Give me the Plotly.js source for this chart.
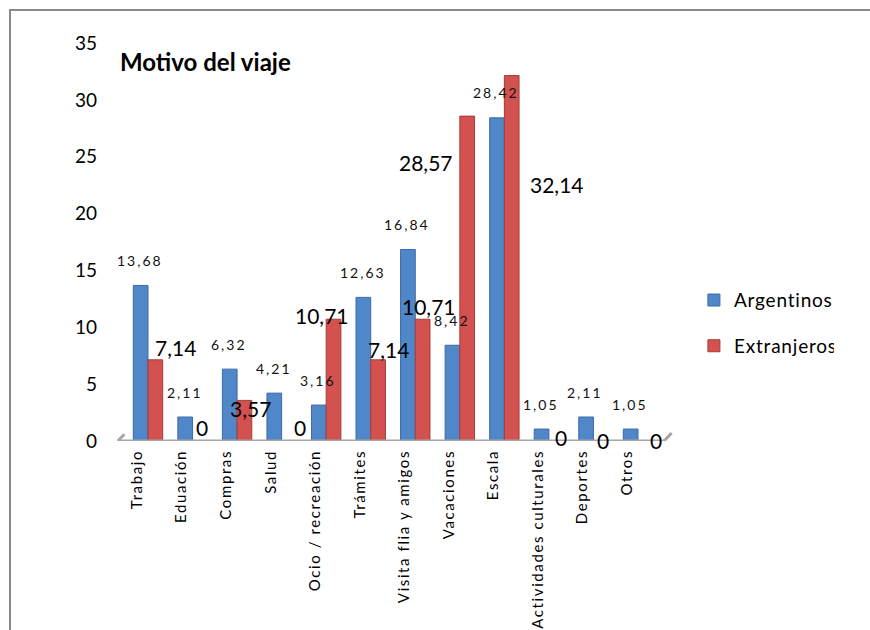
<!DOCTYPE html>
<html>
<head>
<meta charset="utf-8">
<script src="https://cdn.plot.ly/plotly-3.0.1.min.js"></script>
<style>
html,body{margin:0;padding:0;background:#fff;overflow:hidden;}
#wrap{position:relative;width:870px;height:630px;}
#chart{width:870px;height:630px;}
#frame{position:absolute;left:9px;top:9px;width:900px;height:700px;border:2px solid #8a8a8a;box-sizing:border-box;pointer-events:none;}
#chart .xtick text{letter-spacing:1.6px;}
#chart .legendtext{letter-spacing:0.8px;}
</style>
</head>
<body>
<div id="wrap"><div id="chart"></div><div id="frame"></div></div>
<script>
const categories = ["Trabajo","Eduación","Compras","Salud","Ocio / recreación","Trámites","Visita flia y amigos","Vacaciones","Escala","Actividades culturales","Deportes","Otros"];
const argentinos = [13.68, 2.11, 6.32, 4.21, 3.16, 12.63, 16.84, 8.42, 28.42, 1.05, 2.11, 1.05];
const extranjeros = [7.14, 0, 3.57, 0, 10.71, 7.14, 10.71, 28.57, 32.14, 0, 0, 0];
const yTicks = [0, 5, 10, 15, 20, 25, 30, 35];
const seriesNames = ["Argentinos", "Extranjeros"];
const chartTitle = "Motivo del viaje";

// label placement tweaks (pixel shifts of the Extranjeros labels, as placed in the original)
const redLabelDx = [27, 9, 13, 18, -4, 18, 14, -34, 53, 12, 10, 18];
const redLabelDy = [12, 14, -8, 14, 4, 10, 13, -46, -109, 4, 1, 1];

const fmt = v => v === 0 ? "0" : v.toFixed(2).replace(".", ",");
const FONT = "Lato, 'Liberation Sans', sans-serif";

const traces = [
  {type:"bar", name:seriesNames[0], x:categories, y:argentinos, legendgroup:"a",
   marker:{color:"#4f87c9", line:{color:"#3b6aa6", width:1}}, hoverinfo:"x+y"},
  {type:"bar", name:seriesNames[1], x:categories, y:extranjeros, legendgroup:"b",
   marker:{color:"#d3524f", line:{color:"#a63c39", width:1}}, hoverinfo:"x+y"}
];

const annotations = [];
categories.forEach((c, i) => {
  annotations.push({x:c, y:argentinos[i], xref:"x", yref:"y", text:fmt(argentinos[i]),
    showarrow:false, xshift:-8, yshift:25, font:{family:FONT, size:14, color:"#111"}});
  annotations.push({x:c, y:extranjeros[i], xref:"x", yref:"y", text:fmt(extranjeros[i]),
    showarrow:false, xshift:redLabelDx[i], yshift:redLabelDy[i], font:{family:FONT, size:21, color:"#000"}});
});
annotations.push({xref:"paper", yref:"paper", x:-0.004, y:0.953, xanchor:"left", yanchor:"middle",
  text:"<b>" + chartTitle + "</b>", showarrow:false, font:{family:FONT, size:24, color:"#000"}});

const layout = {
  width:870, height:630,
  margin:{l:120, r:206, t:43, b:189},
  paper_bgcolor:"#fff", plot_bgcolor:"rgba(0,0,0,0)",
  barmode:"group", bargap:0.34, bargroupgap:0,
  font:{family:FONT, color:"#000"},
  xaxis:{type:"category", tickangle:-90, tickfont:{family:FONT, size:15, color:"#000"},
    showgrid:false, zeroline:false, showline:false, ticks:"", ticklabelstandoff:5, ticklabelshift:-11},
  yaxis:{range:[0,35], tickvals:yTicks, tickfont:{family:FONT, size:19, color:"#000"},
    showgrid:false, zeroline:false, showline:false, ticks:"", ticklabelstandoff:22},
  legend:{x:1.055, y:0.296, xanchor:"left", yanchor:"middle", font:{family:FONT, size:19, color:"#000"},
    tracegroupgap:18, itemwidth:30, bgcolor:"rgba(0,0,0,0)"},
  shapes:[
    {type:"line", xref:"paper", yref:"y", x0:-0.004, x1:1.0, y0:0, y1:0, line:{color:"#a6a6a6", width:3}},
    {type:"line", xref:"paper", yref:"y", x0:1.0, x1:1.014, y0:0, y1:0.7, line:{color:"#a6a6a6", width:3}},
    {type:"line", xref:"paper", yref:"y", x0:-0.004, x1:0.008, y0:0, y1:0.6, line:{color:"#a6a6a6", width:3}}
  ],
  annotations:annotations,
  showlegend:true
};

Plotly.newPlot("chart", traces, layout, {displayModeBar:false, staticPlot:true}).then(() => {
  document.querySelectorAll("#chart .annotation-text").forEach(t => {
    if ((t.style.fontSize || "").indexOf("14") === 0) t.style.letterSpacing = "2px";
  });
});
</script>
</body>
</html>
